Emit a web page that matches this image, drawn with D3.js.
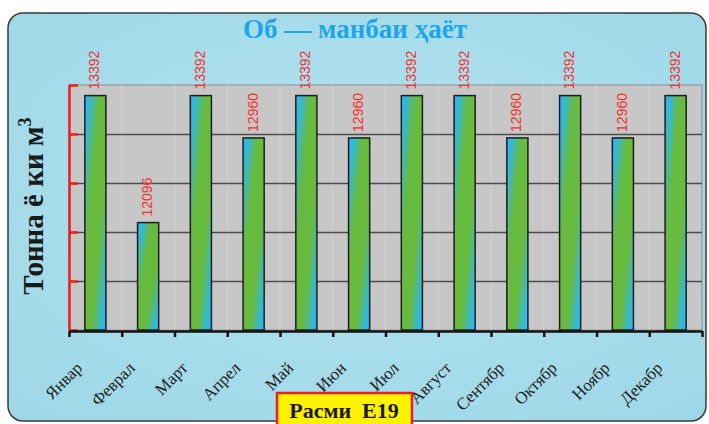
<!DOCTYPE html>
<meta charset="utf-8">
<title>Об — манбаи ҳаёт</title>
<script src="https://cdn.jsdelivr.net/npm/d3@7"></script>
<style>
  body { margin: 0; background: #fff; }
  svg { display: block; }
</style>
<body>
<script>

// monthly values (tonnes or m3)
var months = ["Январ", "Феврал", "Март", "Апрел", "Май", "Июн",
              "Июл", "Август", "Сентябр", "Октябр", "Ноябр", "Декабр"];
var volumes = [13392, 12096, 13392, 12960, 13392, 12960,
               13392, 13392, 12960, 13392, 12960, 13392];
var yTicks = [11000, 11500, 12000, 12500, 13000, 13500];

var width = 709,
    height = 424,
    plot = {left: 69, right: 702, top: 85, bottom: 330};

var svg = d3.select("body").append("svg")
    .attr("width", width)
    .attr("height", height);

var defs = svg.append("defs");

// diagonal cyan-green-cyan fill of the bars
var barGrad = defs.append("linearGradient")
    .attr("id", "bar")
    .attr("x1", 0).attr("y1", 0).attr("x2", 1).attr("y2", 1);
[[0, "#2cb7ee"], [0.1, "#30b8e6"], [0.34, "#66bb40"], [0.66, "#68bb3e"],
 [0.9, "#30b8e4"], [1, "#2cb7ee"]].forEach(function(s) {
  barGrad.append("stop").attr("offset", s[0]).attr("stop-color", s[1]);
});

var bgGrad = defs.append("radialGradient")
    .attr("id", "bg")
    .attr("cx", 0.5).attr("cy", 0.45).attr("r", 0.75);
bgGrad.append("stop").attr("offset", 0).attr("stop-color", "#b4e3ef");
bgGrad.append("stop").attr("offset", 1).attr("stop-color", "#9dd7e7");

// frame
svg.append("rect")
    .attr("x", 8).attr("y", 13)
    .attr("width", 698).attr("height", 408)
    .attr("rx", 15)
    .attr("fill", "url(#bg)")
    .attr("stroke", "#3a3a3a")
    .attr("stroke-width", 1.5);

var x = d3.scaleBand()
    .domain(months)
    .range([plot.left, plot.right])
    .paddingInner(0.6)
    .paddingOuter(0.3);

var y = d3.scaleLinear()
    .domain([11000, 13500])
    .range([plot.bottom, plot.top]);

// plot area
svg.append("rect")
    .attr("x", plot.left).attr("y", plot.top)
    .attr("width", plot.right - plot.left)
    .attr("height", plot.bottom - plot.top)
    .attr("fill", "#c7c7c7")
    .attr("stroke", "#8e8e8e")
    .attr("stroke-width", 1);

// faint vertical lines
svg.append("g")
  .selectAll("line")
  .data(d3.range(1, 12))
  .join("line")
    .attr("x1", function(i) { return plot.left + i * x.step(); })
    .attr("x2", function(i) { return plot.left + i * x.step(); })
    .attr("y1", plot.top).attr("y2", plot.bottom)
    .attr("stroke", "#d3d3d3")
    .attr("stroke-width", 1);

// gridlines
svg.append("g")
    .attr("transform", "translate(" + plot.left + ",0)")
    .call(d3.axisLeft(y).tickValues(yTicks.slice(1, -1))
      .tickSize(-(plot.right - plot.left)).tickFormat(""))
    .call(function(g) {
      g.select(".domain").remove();
      g.selectAll("line").attr("stroke", "#4d4d4d").attr("stroke-width", 1.5);
    });

// bars
svg.append("g")
  .selectAll("rect")
  .data(volumes)
  .join("rect")
    .attr("x", function(d, i) { return x(months[i]); })
    .attr("y", function(d) { return y(d); })
    .attr("width", x.bandwidth())
    .attr("height", function(d) { return y(11000) - y(d); })
    .attr("fill", "url(#bar)")
    .attr("stroke", "#1e1e1e")
    .attr("stroke-width", 1.5);

// value labels
svg.append("g")
  .selectAll("text")
  .data(volumes)
  .join("text")
    .attr("transform", function(d, i) {
      return "translate(" + (x(months[i]) + x.bandwidth() / 2 + 4) + "," + (y(d) - 6) + ") rotate(-90)";
    })
    .attr("font-family", "'Liberation Sans', Arial, sans-serif")
    .attr("font-size", 14)
    .attr("fill", "#f5302a")
    .text(function(d) { return d; });

// red value axis with inner ticks
svg.append("g")
    .attr("transform", "translate(" + plot.left + ",0)")
    .call(d3.axisLeft(y).tickValues(yTicks).tickSize(-9).tickSizeOuter(0).tickFormat(""))
    .call(function(g) {
      g.select(".domain").attr("stroke", "#f01c1c").attr("stroke-width", 2.5);
      g.selectAll(".tick line").attr("stroke", "#f01c1c").attr("stroke-width", 2.5);
    });

// category axis, ticks between bars
var xi = d3.scaleLinear().domain([0, 12]).range([plot.left, plot.right]);
svg.append("g")
    .attr("transform", "translate(0," + (plot.bottom + 1) + ")")
    .call(d3.axisBottom(xi).tickValues(d3.range(13)).tickSize(6).tickSizeOuter(0).tickFormat(""))
    .call(function(g) {
      g.select(".domain").attr("stroke", "#111").attr("stroke-width", 2.5);
      g.selectAll(".tick line").attr("stroke", "#111").attr("stroke-width", 2.5);
    });

// month labels
svg.append("g")
  .selectAll("text")
  .data(months)
  .join("text")
    .attr("transform", function(d) {
      return "translate(" + (x(d) + x.bandwidth() / 2 - 12) + ",369) rotate(-45)";
    })
    .attr("text-anchor", "end")
    .attr("font-family", "'Liberation Serif', 'Times New Roman', serif")
    .attr("font-size", 17)
    .attr("fill", "#222")
    .text(function(d) { return d; });

// title
svg.append("text")
    .attr("x", 355).attr("y", 38)
    .attr("text-anchor", "middle")
    .attr("font-family", "'Liberation Serif', 'Times New Roman', serif")
    .attr("font-weight", "bold")
    .attr("font-size", 27)
    .attr("fill", "#1ea6ea")
    .text("Об — манбаи ҳаёт");

// y title
var yTitle = svg.append("text")
    .attr("transform", "translate(43,206) rotate(-90)")
    .attr("text-anchor", "middle")
    .attr("font-family", "'Liberation Serif', 'Times New Roman', serif")
    .attr("font-weight", "bold")
    .attr("font-size", 29)
    .attr("fill", "#1a1a1a");
yTitle.append("tspan").text("Тонна ё ки м");
yTitle.append("tspan").attr("dy", -12).attr("font-size", 18).text("3");

// caption
svg.append("rect")
    .attr("x", 277).attr("y", 393)
    .attr("width", 135).attr("height", 36)
    .attr("fill", "#fdf200")
    .attr("stroke", "#ee1c24")
    .attr("stroke-width", 2.5);
svg.append("text")
    .attr("x", 344).attr("y", 418)
    .attr("text-anchor", "middle")
    .attr("font-family", "'Liberation Serif', 'Times New Roman', serif")
    .attr("font-weight", "bold")
    .attr("font-size", 22)
    .attr("fill", "#1a1a1a")
    .attr("xml:space", "preserve")
    .text("Расми  E19");

</script>
</body>
